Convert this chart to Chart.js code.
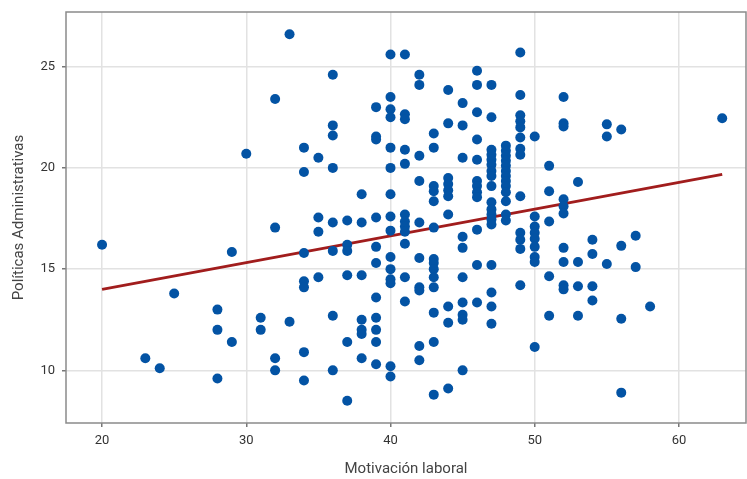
<!DOCTYPE html>
<html lang="es">
<head>
    <meta charset="UTF-8">
    <title>Motivación laboral vs Políticas Administrativas</title>
    <script src="https://cdn.jsdelivr.net/npm/chart.js"></script>
    <style>
        body {
            margin: 0;
            padding: 0;
            background-color: #ffffff;
        }
        #wrap {
            width: 747px;
            height: 479px;
        }
    </style>
</head>
<body>
    <div id="wrap"><canvas id="grafico" width="747" height="479"></canvas></div>

    <script>
        // Valores de Motivación laboral (una columna por valor)
        const motivacion = [20, 23, 24, 25, 28, 29, 30, 31, 32, 33, 34, 35, 36, 37, 38, 39, 40, 41, 42, 43, 44, 45, 46, 47, 48, 49, 50, 51, 52, 53, 54, 55, 56, 57, 58, 63];

        // Políticas Administrativas para cada columna de motivación
        const politicas = [
            [16.2],
            [10.6],
            [10.1],
            [13.8],
            [13.0, 12.0, 9.6],
            [15.85, 11.4],
            [20.7],
            [12.6, 12.0],
            [23.4, 17.05, 10.6, 10.0],
            [26.6, 12.4],
            [21.0, 19.8, 15.8, 14.4, 14.1, 10.9, 9.5],
            [20.5, 17.55, 16.85, 14.6],
            [24.6, 22.1, 21.6, 20.0, 17.3, 15.9, 12.7, 10.0],
            [17.4, 16.2, 15.9, 14.7, 11.4, 8.5],
            [18.7, 17.3, 14.7, 12.5, 12.0, 11.8, 10.6],
            [23.0, 21.55, 21.4, 17.55, 16.1, 15.3, 13.6, 12.6, 12.0, 11.4, 10.3],
            [25.6, 23.5, 22.9, 22.5, 21.0, 20.0, 18.7, 17.6, 16.9, 15.6, 15.0, 14.5, 14.3, 10.2, 9.7],
            [25.6, 22.65, 22.4, 20.9, 20.2, 17.7, 17.35, 17.1, 16.85, 16.25, 14.6, 13.4],
            [24.6, 24.1, 20.6, 19.35, 17.3, 15.55, 14.1, 13.95, 11.2, 10.5],
            [21.7, 21.0, 19.1, 18.85, 18.35, 17.05, 15.5, 15.3, 15.0, 14.6, 14.1, 12.85, 11.4, 8.8],
            [23.85, 22.2, 19.5, 19.2, 18.9, 18.6, 17.7, 13.15, 12.35, 9.1],
            [23.2, 22.1, 20.5, 16.6, 16.05, 14.6, 13.35, 12.75, 12.5, 10.0],
            [24.8, 24.1, 22.75, 21.4, 20.4, 19.35, 19.1, 18.8, 18.55, 16.95, 15.2, 13.35],
            [24.1, 22.5, 20.9, 20.65, 20.4, 20.15, 19.85, 19.6, 19.1, 18.3, 17.95, 17.7, 17.45, 17.2, 15.2, 13.85, 13.15, 12.3],
            [21.1, 20.85, 20.6, 20.35, 20.1, 19.85, 19.6, 19.35, 19.1, 18.8, 18.35, 17.7, 17.4],
            [25.7, 23.6, 22.6, 22.3, 22.0, 21.5, 20.95, 20.65, 18.6, 16.8, 16.45, 16.0, 14.2],
            [21.55, 17.6, 17.1, 16.8, 16.5, 16.1, 15.6, 15.35, 11.15],
            [20.1, 18.85, 17.35, 14.65, 12.7],
            [23.5, 22.2, 22.05, 18.45, 18.1, 17.75, 16.05, 15.35, 14.2, 14.0],
            [19.3, 15.35, 14.15, 12.7],
            [16.45, 15.75, 14.15, 13.45],
            [22.15, 21.55, 15.25],
            [21.9, 16.15, 12.55, 8.9],
            [16.65, 15.1],
            [13.15],
            [22.45]
        ];

        // Recta de regresión (extremos)
        const rectaX = [20, 63];
        const rectaY = [14.0, 19.68];

        const ticksX = [20, 30, 40, 50, 60];
        const ticksY = [10, 15, 20, 25];

        const puntos = [];
        motivacion.forEach((m, i) => {
            politicas[i].forEach(p => puntos.push({ x: m, y: p }));
        });
        const recta = rectaX.map((x, i) => ({ x: x, y: rectaY[i] }));

        const fuente = '"Liberation Sans Narrow", "Roboto", sans-serif';

        // Marco gris alrededor del área del gráfico
        const marco = {
            id: 'marco',
            afterDraw(chart) {
                const a = chart.chartArea;
                const ctx = chart.ctx;
                ctx.save();
                ctx.strokeStyle = '#8a8a8a';
                ctx.lineWidth = 1.5;
                ctx.strokeRect(a.left, a.top, a.right - a.left, a.bottom - a.top);
                ctx.restore();
            }
        };

        new Chart(document.getElementById('grafico').getContext('2d'), {
            type: 'scatter',
            data: {
                datasets: [{
                    label: 'Datos',
                    data: puntos,
                    backgroundColor: '#0353a4',
                    borderWidth: 0,
                    pointRadius: 5,
                    order: 1
                }, {
                    type: 'line',
                    label: 'Regresión',
                    data: recta,
                    borderColor: '#a11d1d',
                    borderWidth: 3,
                    pointRadius: 0,
                    fill: false,
                    order: 2
                }]
            },
            options: {
                responsive: false,
                animation: false,
                layout: {
                    autoPadding: false,
                    padding: { top: 12, right: 1, bottom: 0, left: 0 }
                },
                scales: {
                    x: {
                        type: 'linear',
                        min: 17.5,
                        max: 64.65,
                        afterBuildTicks: s => { s.ticks = ticksX.map(v => ({ value: v })); },
                        afterFit: s => { s.height = 56; s.paddingLeft = 0; s.paddingRight = 0; },
                        ticks: { color: '#333', padding: 6, font: { family: fuente, size: 13 } },
                        grid: { color: '#e2e2e2', lineWidth: 1.5, tickColor: '#777', tickLength: 4 },
                        border: { display: false },
                        title: {
                            display: true,
                            text: 'Motivación laboral',
                            color: '#444',
                            padding: 1,
                            font: { family: fuente, size: 15 }
                        }
                    },
                    y: {
                        min: 7.4,
                        max: 27.7,
                        afterBuildTicks: s => { s.ticks = ticksY.map(v => ({ value: v })); },
                        afterFit: s => { s.width = 66; s.paddingTop = 0; s.paddingBottom = 0; },
                        ticks: { color: '#333', padding: 7, font: { family: fuente, size: 13 } },
                        grid: { color: '#e2e2e2', lineWidth: 1.5, tickColor: '#777', tickLength: 4 },
                        border: { display: false },
                        title: {
                            display: true,
                            text: 'Políticas Administrativas',
                            color: '#444',
                            padding: 10,
                            font: { family: fuente, size: 15 }
                        }
                    }
                },
                plugins: {
                    legend: { display: false },
                    tooltip: { enabled: false }
                }
            },
            plugins: [marco]
        });
    </script>
</body>
</html>
